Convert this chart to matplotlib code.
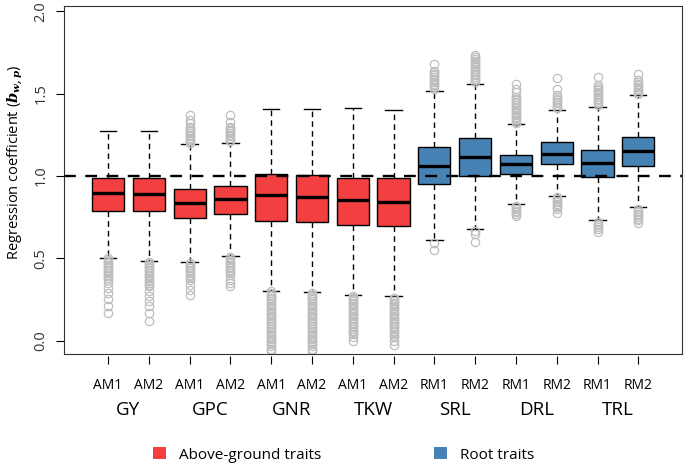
import matplotlib
matplotlib.use("Agg")
import matplotlib.pyplot as plt
from matplotlib.patches import Patch

plt.rcParams['font.family'] = ['Open Sans', 'DejaVu Sans']
plt.rcParams['mathtext.fontset'] = 'dejavuserif'

# box statistics
sub_labels = ['AM1', 'AM2'] * 4 + ['RM1', 'RM2'] * 3
traits = ['GY', 'GPC', 'GNR', 'TKW', 'SRL', 'DRL', 'TRL']
q1 = [0.790, 0.786, 0.743, 0.767, 0.727, 0.719, 0.704, 0.698,
      0.953, 1.000, 1.010, 1.071, 0.996, 1.063]
med = [0.895, 0.889, 0.834, 0.859, 0.883, 0.874, 0.852, 0.844,
       1.063, 1.115, 1.073, 1.134, 1.079, 1.152]
q3 = [0.990, 0.986, 0.921, 0.941, 1.012, 1.004, 0.986, 0.986,
      1.178, 1.229, 1.126, 1.207, 1.160, 1.235]
whislo = [0.504, 0.484, 0.476, 0.512, 0.304, 0.296, 0.279, 0.271,
          0.611, 0.678, 0.828, 0.879, 0.733, 0.814]
whishi = [1.275, 1.275, 1.195, 1.201, 1.405, 1.405, 1.413, 1.399,
          1.518, 1.560, 1.314, 1.399, 1.417, 1.492]

# outliers (dense streaks listed point by point)
fliers = [
    [0.50, 0.49, 0.48, 0.47, 0.46, 0.45, 0.44, 0.43, 0.42, 0.41, 0.40, 0.39,
     0.38, 0.37, 0.35, 0.32, 0.29, 0.25, 0.21, 0.17],
    [0.48, 0.47, 0.46, 0.45, 0.44, 0.43, 0.42, 0.41, 0.40, 0.39, 0.38, 0.37,
     0.36, 0.35, 0.34, 0.33, 0.30, 0.27, 0.24, 0.21, 0.17, 0.12],
    [1.20, 1.21, 1.22, 1.23, 1.24, 1.25, 1.26, 1.27, 1.28, 1.29, 1.30, 1.32,
     1.34, 1.37, 0.47, 0.46, 0.45, 0.44, 0.43, 0.42, 0.41, 0.40, 0.39, 0.38,
     0.37, 0.34, 0.31, 0.28],
    [1.21, 1.22, 1.23, 1.24, 1.25, 1.26, 1.27, 1.28, 1.29, 1.30, 1.33, 1.37,
     0.51, 0.50, 0.49, 0.48, 0.47, 0.46, 0.45, 0.44, 0.43, 0.42, 0.41, 0.40,
     0.37, 0.35, 0.33],
    [0.30, 0.29, 0.28, 0.27, 0.26, 0.25, 0.24, 0.23, 0.22, 0.21, 0.20, 0.19,
     0.18, 0.17, 0.16, 0.15, 0.14, 0.13, 0.12, 0.11, 0.10, 0.09, 0.08, 0.07,
     0.06, 0.05, 0.04, 0.03, 0.02, 0.01, 0.00, -0.01, -0.02, -0.03, -0.05,
     -0.065],
    [0.29, 0.28, 0.27, 0.26, 0.25, 0.24, 0.23, 0.22, 0.21, 0.20, 0.19, 0.18,
     0.17, 0.16, 0.15, 0.14, 0.13, 0.12, 0.11, 0.10, 0.09, 0.08, 0.07, 0.06,
     0.05, 0.04, 0.03, 0.02, 0.01, 0.00, -0.01, -0.02, -0.035, -0.05, -0.065],
    [0.27, 0.26, 0.25, 0.24, 0.23, 0.22, 0.21, 0.20, 0.19, 0.18, 0.17, 0.16,
     0.15, 0.14, 0.13, 0.12, 0.11, 0.10, 0.09, 0.08, 0.07, 0.06, 0.05, 0.04,
     0.02, 0.00],
    [0.26, 0.25, 0.24, 0.23, 0.22, 0.21, 0.20, 0.19, 0.18, 0.17, 0.16, 0.15,
     0.14, 0.13, 0.12, 0.11, 0.10, 0.09, 0.08, 0.07, 0.06, 0.05, 0.04, 0.03,
     0.02, 0.00, -0.025],
    [1.53, 1.54, 1.55, 1.56, 1.57, 1.58, 1.59, 1.60, 1.61, 1.62, 1.63, 1.64,
     1.68, 0.59, 0.55],
    [1.57, 1.58, 1.59, 1.60, 1.61, 1.62, 1.63, 1.64, 1.65, 1.66, 1.67, 1.68,
     1.69, 1.70, 1.71, 1.72, 1.735, 0.665, 0.645, 0.60],
    [1.32, 1.33, 1.34, 1.35, 1.36, 1.37, 1.38, 1.39, 1.40, 1.41, 1.42, 1.43,
     1.44, 1.45, 1.46, 1.47, 1.48, 1.51, 1.53, 1.557, 0.82, 0.81, 0.80, 0.79,
     0.78, 0.77, 0.757],
    [1.41, 1.42, 1.43, 1.44, 1.45, 1.46, 1.47, 1.48, 1.49, 1.53, 1.593,
     0.87, 0.86, 0.85, 0.84, 0.83, 0.82, 0.81, 0.80, 0.777],
    [1.43, 1.44, 1.45, 1.46, 1.47, 1.48, 1.49, 1.50, 1.51, 1.52, 1.53, 1.54,
     1.55, 1.60, 0.72, 0.71, 0.70, 0.69, 0.68, 0.662],
    [1.50, 1.51, 1.52, 1.53, 1.54, 1.55, 1.56, 1.57, 1.58, 1.62,
     0.80, 0.79, 0.78, 0.77, 0.76, 0.75, 0.74, 0.73, 0.713],
]

red = '#F24040'
blue = '#4682B4'
box_colors = [red] * 8 + [blue] * 6

stats = []
for i in range(len(q1)):
    stats.append(dict(q1=q1[i], med=med[i], q3=q3[i], whislo=whislo[i],
                      whishi=whishi[i], fliers=fliers[i]))

fig = plt.figure(figsize=(6.85, 4.72), dpi=100)
ax = fig.add_axes([0.0934, 0.25, 0.9022, 0.7373])

positions = list(range(1, 15))
bp = ax.bxp(stats, positions=positions, widths=0.79, patch_artist=True,
            showfliers=True,
            boxprops=dict(edgecolor='black', linewidth=1.0),
            medianprops=dict(color='black', linewidth=2.4),
            whiskerprops=dict(color='black', linestyle=(0, (4, 3)), linewidth=1.0),
            capprops=dict(color='black', linewidth=1.0),
            capwidths=0.4,
            flierprops=dict(marker='o', markerfacecolor='none',
                            markeredgecolor='#BEBEBE', markersize=6,
                            markeredgewidth=0.9))
for patch, c in zip(bp['boxes'], box_colors):
    patch.set_facecolor(c)

ax.axhline(1.0, color='black', linestyle=(0, (5, 4)), linewidth=1.7, zorder=5)

ax.set_xlim(-0.08, 15.07)
ax.set_ylim(-0.081, 2.032)
ax.set_yticks([0.0, 0.5, 1.0, 1.5, 2.0])
ax.set_yticklabels(['0.0', '0.5', '1.0', '1.5', '2.0'], rotation=90,
                   va='center', fontsize=10.5, color='#333333')
ax.tick_params(axis='y', direction='out', length=6, width=0.8, pad=5)
ax.set_ylabel(r'Regression coefficient ($\mathbfit{b}_{\mathbfit{w,p}}$)',
              fontsize=10.5)
ax.yaxis.set_label_coords(-0.063, 0.55)

# x ticks sit a little below the frame, with no axis line
ax.set_xticks([])
sec = ax.secondary_xaxis(-0.006)
sec.spines['bottom'].set_visible(False)
sec.set_xticks(positions)
sec.set_xticklabels(sub_labels, fontsize=10)
sec.tick_params(direction='out', length=6, width=0.8, pad=10)

for spine in ax.spines.values():
    spine.set_linewidth(0.8)
    spine.set_color('#333333')

for k, t in enumerate(traits):
    ax.text(1.5 + 2 * k, -0.421, t, ha='center', va='center', fontsize=13.5,
            transform=ax.transData, clip_on=False)

handles = [Patch(facecolor=red, edgecolor='none', label='Above-ground traits'),
           Patch(facecolor=blue, edgecolor='none', label='Root traits')]
fig.legend(handles=handles, loc='center left', bbox_to_anchor=(153 / 685, 1 - 455 / 472),
           ncol=2, frameon=False, fontsize=11, handlelength=0.85, handleheight=0.85,
           handletextpad=0.85, columnspacing=7.4, borderpad=0, borderaxespad=0)

fig.savefig('out.png', dpi=100)
